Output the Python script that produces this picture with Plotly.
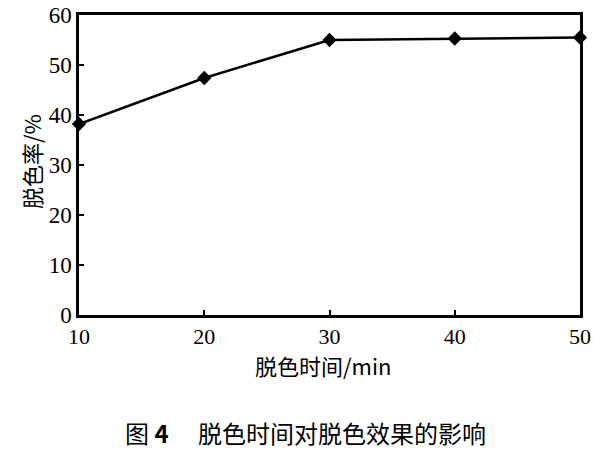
import plotly.graph_objects as go

time_min = [10, 20, 30, 40, 50]
decolor_rate = [38.2, 47.4, 55.0, 55.3, 55.5]
x_ticks = [10, 20, 30, 40, 50]
y_ticks = [0, 10, 20, 30, 40, 50, 60]

serif = "Liberation Serif, Times New Roman, serif"
cjk = "Noto Sans CJK SC"

fig = go.Figure()
fig.add_trace(go.Scatter(
    x=time_min, y=decolor_rate, mode="lines+markers",
    line=dict(color="black", width=2.5),
    marker=dict(symbol="diamond", size=11, color="black"),
    cliponaxis=False, showlegend=False,
))

fig.update_layout(
    width=600, height=450,
    margin=dict(l=79, r=20, t=15, b=135),
    paper_bgcolor="white", plot_bgcolor="white",
    xaxis=dict(
        range=[10, 50], tickvals=x_ticks, ticktext=[str(v) for v in x_ticks],
        showgrid=False, zeroline=False, showline=True, linecolor="black", linewidth=2.5,
        mirror=True, ticks="inside", ticklen=5, tickwidth=1.5, tickcolor="black",
        tickfont=dict(family=serif, size=22, color="black"),
        automargin=False, ticklabelstandoff=0, ticklabeloverflow="allow",
    ),
    yaxis=dict(
        range=[0, 60], tickvals=y_ticks, ticktext=[str(v) for v in y_ticks],
        showgrid=False, zeroline=False, showline=True, linecolor="black", linewidth=2.5,
        mirror=True, ticks="inside", ticklen=5, tickwidth=1.5, tickcolor="black",
        tickfont=dict(family=serif, size=23, color="black"),
        ticklabelstandoff=0, automargin=False, ticklabeloverflow="allow",
    ),
    annotations=[
        dict(text="脱色时间/min", x=0.487, y=-0.165, xref="paper", yref="paper",
             xanchor="center", yanchor="middle", showarrow=False,
             font=dict(family=cjk, size=22, color="black")),
        dict(text="脱色率/%", x=-0.096, y=0.513, xref="paper", yref="paper",
             xanchor="center", yanchor="middle", textangle=-90, showarrow=False,
             font=dict(family=cjk, size=22, color="black")),
        dict(text="图 <b>4</b>　 脱色时间对脱色效果的影响", x=0.453, y=-0.39,
             xref="paper", yref="paper", xanchor="center", yanchor="middle",
             showarrow=False, font=dict(family=cjk, size=24, color="black")),
    ],
)

fig.write_html("out.html", config={"displayModeBar": False},
               post_script="document.body.style.margin='0';")
